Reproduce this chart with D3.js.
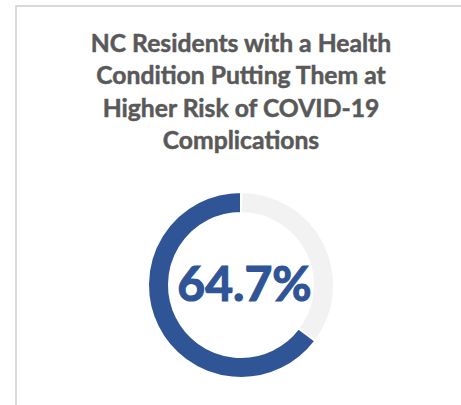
<!DOCTYPE html>
<html>
<head>
<meta charset="utf-8">
<script src="https://cdn.jsdelivr.net/npm/d3@7"></script>
<style>
  body { margin: 0; background: #fff; }
  svg { display: block; }
</style>
</head>
<body>
<div id="chart"></div>
<script>
var titleLines = ["NC Residents with a Health", "Condition Putting Them at", "Higher Risk of COVID-19", "Complications"];
var categories = ["Other", "With health condition"];
var values = [35.3, 64.7];
var colors = ["#F2F2F2", "#2F5597"];
var centerLabel = "64.7%";

var width = 461, height = 405;
var cx = 241, cy = 285, outer = 93, inner = 72;

var svg = d3.select("#chart")
    .append("svg")
    .attr("width", width)
    .attr("height", height);

// chart frame (only top and left edges are visible in the crop)
svg.append("path")
    .attr("d", `M16,${height} V6 H${width}`)
    .attr("fill", "none")
    .attr("stroke", "#d9d9d9")
    .attr("stroke-width", 2);

svg.append("g")
    .attr("fill", "#595959")
    .attr("stroke", "#595959")
    .attr("stroke-width", 0.5)
    .attr("font-family", "Lato, 'Open Sans', sans-serif")
    .attr("font-weight", "bold")
    .attr("font-size", 24.7)
    .attr("text-anchor", "middle")
    .selectAll("text").data(titleLines).enter().append("text")
    .attr("x", cx)
    .attr("y", (d, i) => 52 + i * 32.4)
    .text(d => d);

var pie = d3.pie().sort(null).value(d => d);
var arc = d3.arc().innerRadius(inner).outerRadius(outer);

svg.append("g")
    .attr("transform", `translate(${cx},${cy})`)
    .selectAll("path").data(pie(values)).enter().append("path")
    .attr("d", arc)
    .attr("fill", (d, i) => colors[i])
    .attr("stroke", "#fff")
    .attr("stroke-width", 2);

svg.append("text")
    .attr("x", cx + 3.5)
    .attr("y", 301)
    .attr("text-anchor", "middle")
    .attr("fill", "#2F5597")
    .attr("stroke", "#2F5597")
    .attr("stroke-width", 1.2)
    .attr("font-family", "Lato, 'Open Sans', sans-serif")
    .attr("font-weight", "bold")
    .attr("font-size", 48)
    .text(centerLabel);
</script>
</body>
</html>
